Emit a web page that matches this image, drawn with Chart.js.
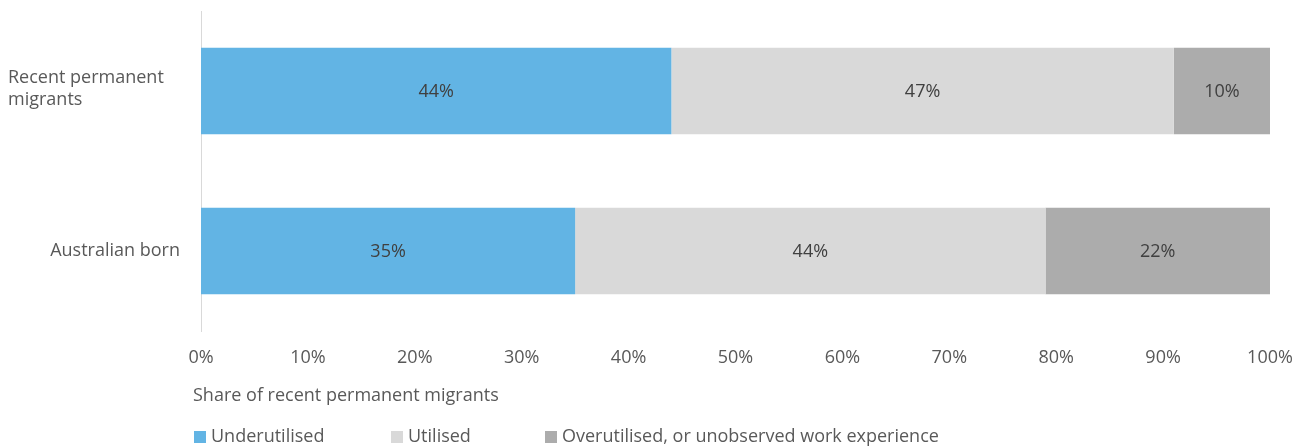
<!DOCTYPE html>
<html>
<head>
<meta charset="utf-8">
<script src="https://cdn.jsdelivr.net/npm/chart.js@4"></script>
<style>
  html, body { margin: 0; padding: 0; background: #ffffff; }
  #wrap { position: relative; width: 1305px; height: 448px; }
</style>
</head>
<body>
<div id="wrap"><canvas id="c" width="1305" height="448"></canvas></div>
<script>
// Groups shown as bars (top to bottom)
const categories = [["Recent permanent", "migrants"], "Australian born"];
// Share of each group in each utilisation status (%)
const underutilised = [44, 35];
const utilised = [47, 44];
const overutilised = [10, 22];
const seriesNames = ["Underutilised", "Utilised", "Overutilised, or unobserved work experience"];
const seriesColors = ["#62b4e4", "#d9d9d9", "#acacac"];
const xTicks = [0, 10, 20, 30, 40, 50, 60, 70, 80, 90, 100];
const axisTitle = "Share of recent permanent migrants";

const FONT = "'Open Sans', 'Noto Sans', sans-serif";
const TEXT = "#595959";
const SIZE = 18;

// Category labels on the left, plus value labels inside each segment
const labelsPlugin = {
  id: "labels",
  afterDatasetsDraw(chart) {
    const ctx = chart.ctx;
    const area = chart.chartArea;
    const yScale = chart.scales.y;
    ctx.save();
    ctx.font = SIZE + "px " + FONT;
    ctx.textBaseline = "middle";

    // segment value labels
    ctx.fillStyle = "#404040";
    ctx.textAlign = "center";
    chart.data.datasets.forEach((ds, di) => {
      chart.getDatasetMeta(di).data.forEach((bar, i) => {
        const p = bar.getProps(["x", "y", "base"], true);
        const l = Math.max(Math.min(p.x, p.base), area.left);
        const r = Math.min(Math.max(p.x, p.base), area.right);
        ctx.fillText(ds.data[i] + "%", (l + r) / 2, p.y + 1);
      });
    });

    // category labels
    ctx.fillStyle = TEXT;
    categories.forEach((cat, i) => {
      const y = yScale.getPixelForValue(i);
      if (Array.isArray(cat)) {
        ctx.textAlign = "left";
        const lh = 22;
        cat.forEach((line, k) => {
          ctx.fillText(line, 8, y - 2 - (cat.length - 1) * lh / 2 + k * lh);
        });
      } else {
        ctx.textAlign = "right";
        ctx.fillText(cat, 180, y);
      }
    });
    ctx.restore();
  }
};

// Axis title and legend below the plot, left-aligned
const footerPlugin = {
  id: "footer",
  afterDraw(chart) {
    const ctx = chart.ctx;
    ctx.save();
    ctx.font = SIZE + "px " + FONT;
    ctx.textBaseline = "middle";
    ctx.textAlign = "left";
    ctx.fillStyle = TEXT;
    ctx.fillText(axisTitle, 193, 396);

    const legendX = [194, 391, 545];
    chart.data.datasets.forEach((ds, i) => {
      ctx.fillStyle = ds.backgroundColor;
      ctx.fillRect(legendX[i], 431, 12, 12);
      ctx.fillStyle = TEXT;
      ctx.fillText(ds.label, legendX[i] + 17, 437);
    });
    ctx.restore();
  }
};

new Chart(document.getElementById("c"), {
  type: "bar",
  data: {
    labels: categories.map(c => Array.isArray(c) ? c.join(" ") : c),
    datasets: [underutilised, utilised, overutilised].map((d, i) => ({
      label: seriesNames[i],
      data: d,
      backgroundColor: seriesColors[i],
      borderWidth: 0,
      barPercentage: 0.54,
      categoryPercentage: 1.0
    }))
  },
  options: {
    indexAxis: "y",
    responsive: false,
    animation: false,
    layout: { padding: { top: 11, right: 35, left: 0, bottom: 0 } },
    plugins: {
      legend: { display: false },
      tooltip: { enabled: false }
    },
    scales: {
      x: {
        stacked: true,
        min: 0,
        max: 100,
        afterBuildTicks(scale) { scale.ticks = xTicks.map(v => ({ value: v })); },
        grid: { display: false, drawTicks: false },
        border: { display: false },
        ticks: {
          padding: 16,
          color: TEXT,
          font: { family: FONT, size: SIZE },
          maxRotation: 0,
          callback: v => v + "%"
        },
        afterFit(scale) {
          scale.height = 117;
          scale.paddingLeft = 0;
          scale.paddingRight = 0;
        }
      },
      y: {
        stacked: true,
        grid: { display: false, drawTicks: false },
        border: { display: true, color: "#d9d9d9", width: 1 },
        ticks: { display: false },
        afterFit(scale) { scale.width = 201; }
      }
    }
  },
  plugins: [labelsPlugin, footerPlugin]
});
</script>
</body>
</html>
